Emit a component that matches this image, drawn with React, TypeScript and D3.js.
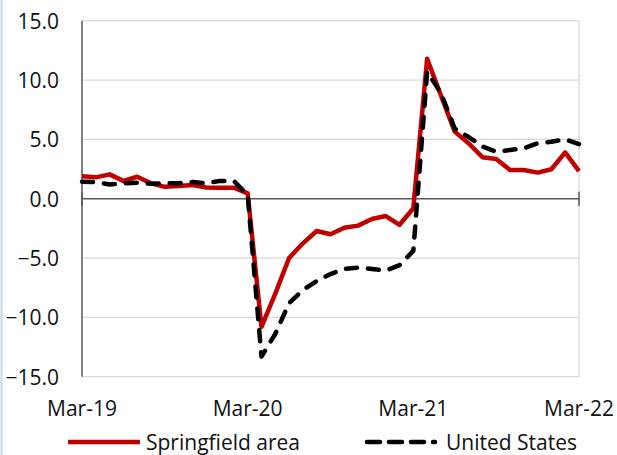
import React, { useEffect, useRef } from 'react';
import * as d3 from 'd3';

// monthly, Mar-19 .. Mar-22
const months = [
  'Mar-19', 'Apr-19', 'May-19', 'Jun-19', 'Jul-19', 'Aug-19', 'Sep-19', 'Oct-19', 'Nov-19', 'Dec-19', 'Jan-20', 'Feb-20',
  'Mar-20', 'Apr-20', 'May-20', 'Jun-20', 'Jul-20', 'Aug-20', 'Sep-20', 'Oct-20', 'Nov-20', 'Dec-20', 'Jan-21', 'Feb-21',
  'Mar-21', 'Apr-21', 'May-21', 'Jun-21', 'Jul-21', 'Aug-21', 'Sep-21', 'Oct-21', 'Nov-21', 'Dec-21', 'Jan-22', 'Feb-22',
  'Mar-22',
];

const springfield = [
  1.9, 1.8, 2.05, 1.5, 1.85, 1.3, 1.0, 1.07, 1.15, 0.95, 0.93, 0.93,
  0.45, -10.8, -8.0, -5.0, -3.76, -2.72, -3.0, -2.44, -2.27, -1.71, -1.46, -2.2,
  -0.8, 11.8, 8.7, 5.65, 4.67, 3.5, 3.35, 2.42, 2.42, 2.2, 2.48, 3.9,
  2.33,
];

const unitedStates = [
  1.43, 1.4, 1.2, 1.3, 1.35, 1.25, 1.3, 1.3, 1.4, 1.3, 1.5, 1.5,
  0.3, -13.3, -11.4, -8.8, -7.7, -6.93, -6.35, -5.92, -5.8, -5.92, -6.06, -5.6,
  -4.4, 10.7, 8.9, 5.9, 5.2, 4.4, 3.96, 4.1, 4.25, 4.67, 4.8, 5.0,
  4.6,
];

const yTicks = [15, 10, 5, 0, -5, -10, -15];
const xTickLabels = ['Mar-19', 'Mar-20', 'Mar-21', 'Mar-22'];

const seriesNames = ['Springfield area', 'United States'];

const W = 617;
const H = 455;
const FONT = '"Open Sans", "Noto Sans", sans-serif';

const App: React.FC = () => {
  const svgRef = useRef<SVGSVGElement>(null);

  useEffect(() => {
    document.body.style.margin = '0';
    if (!svgRef.current) return;
    const svg = d3.select(svgRef.current);
    svg.selectAll('*').remove();

    const left = 82;
    const right = 579;
    const top = 20.7;
    const bottom = 376.7;

    const x = d3.scaleLinear().domain([0, months.length - 1]).range([left, right]);
    const y = d3.scaleLinear().domain([-15, 15]).range([bottom, top]);

    // light blue outer border on the left edge
    svg.append('line')
      .attr('x1', 1.5).attr('x2', 1.5).attr('y1', 0).attr('y2', H)
      .attr('stroke', '#c6d9f0').attr('stroke-width', 2);

    // gridlines
    svg.append('g')
      .selectAll('line')
      .data(yTicks.filter(d => d !== 0))
      .join('line')
      .attr('x1', left).attr('x2', right)
      .attr('y1', d => y(d)).attr('y2', d => y(d))
      .attr('stroke', '#d9d9d9').attr('stroke-width', 1.3);

    // right plot border
    svg.append('line')
      .attr('x1', right).attr('x2', right).attr('y1', top).attr('y2', bottom)
      .attr('stroke', '#d9d9d9').attr('stroke-width', 1.3);

    // y axis line
    svg.append('line')
      .attr('x1', left).attr('x2', left).attr('y1', top).attr('y2', bottom)
      .attr('stroke', '#595959').attr('stroke-width', 1.5);

    // zero axis + cross ticks every 12 months
    svg.append('line')
      .attr('x1', left).attr('x2', right).attr('y1', y(0)).attr('y2', y(0))
      .attr('stroke', '#595959').attr('stroke-width', 1.5);
    svg.append('g')
      .selectAll('line')
      .data(xTickLabels)
      .join('line')
      .attr('x1', d => x(months.indexOf(d))).attr('x2', d => x(months.indexOf(d)))
      .attr('y1', y(0) - 7).attr('y2', y(0) + 7)
      .attr('stroke', '#595959').attr('stroke-width', 1.5);

    // y labels
    svg.append('g')
      .selectAll('text')
      .data(yTicks)
      .join('text')
      .attr('x', 59)
      .attr('y', d => y(d))
      .attr('text-anchor', 'end')
      .attr('dominant-baseline', 'central')
      .attr('font-family', FONT)
      .attr('font-size', 21)
      .attr('fill', '#111')
      .text(d => d3.format('.1f')(d));

    // x labels
    svg.append('g')
      .selectAll('text')
      .data(xTickLabels)
      .join('text')
      .attr('x', d => x(months.indexOf(d)))
      .attr('y', 416)
      .attr('text-anchor', 'middle')
      .attr('font-family', FONT)
      .attr('font-size', 21)
      .attr('fill', '#111')
      .text(d => d);

    const line = d3.line<number>()
      .x((_, i) => x(i))
      .y(d => y(d));

    svg.append('path')
      .datum(springfield)
      .attr('fill', 'none')
      .attr('stroke', '#c00000')
      .attr('stroke-width', 4.5)
      .attr('stroke-linejoin', 'round')
      .attr('d', line);

    svg.append('path')
      .datum(unitedStates)
      .attr('fill', 'none')
      .attr('stroke', '#000')
      .attr('stroke-width', 4.5)
      .attr('stroke-linecap', 'round')
      .attr('stroke-linejoin', 'round')
      .attr('stroke-dasharray', '11,11')
      .attr('d', line);

    // legend
    const ly = 442;
    const lg = svg.append('g');
    lg.append('line')
      .attr('x1', 68).attr('x2', 140).attr('y1', ly).attr('y2', ly)
      .attr('stroke', '#c00000').attr('stroke-width', 4.5);
    lg.append('text')
      .attr('x', 146).attr('y', ly).attr('dominant-baseline', 'central')
      .attr('font-family', FONT).attr('font-size', 21).attr('fill', '#111')
      .text(seriesNames[0]);
    lg.append('line')
      .attr('x1', 367).attr('x2', 435).attr('y1', ly).attr('y2', ly)
      .attr('stroke', '#000').attr('stroke-width', 4.5)
      .attr('stroke-linecap', 'round').attr('stroke-dasharray', '13,9');
    lg.append('text')
      .attr('x', 446).attr('y', ly).attr('dominant-baseline', 'central')
      .attr('font-family', FONT).attr('font-size', 21).attr('fill', '#111')
      .text(seriesNames[1]);
  }, []);

  return <svg ref={svgRef} width={W} height={H} style={{ display: 'block', background: '#fff' }} />;
};

export default App;
